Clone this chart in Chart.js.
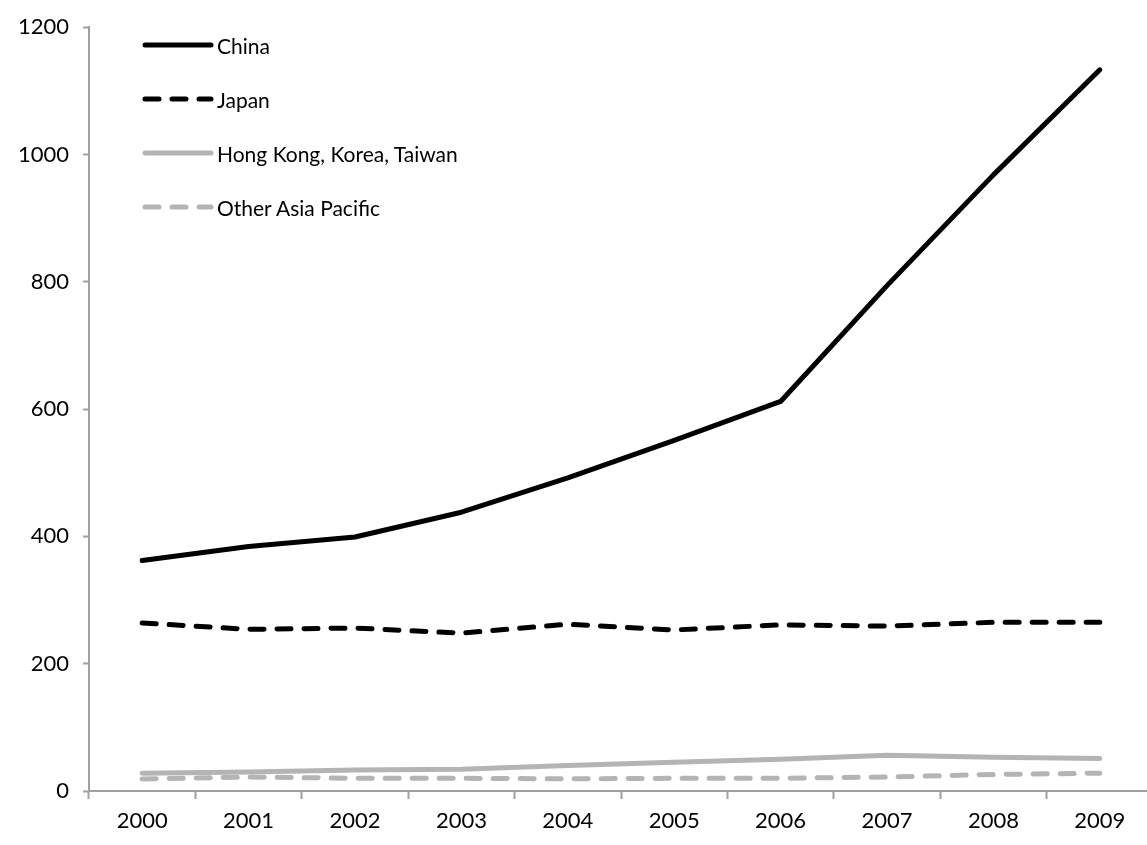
<!DOCTYPE html>
<html>
<head>
<meta charset="utf-8">
<script src="https://cdn.jsdelivr.net/npm/chart.js@4/dist/chart.umd.min.js"></script>
<style>
  html, body { margin: 0; padding: 0; background: #fff; overflow: hidden; }
  #wrap { position: relative; width: 1147px; height: 845px; overflow: hidden; }
  #legend { position: absolute; left: 142px; top: 18px; font-family: Lato, "Open Sans", sans-serif; font-size: 21px; color: #000; }
  #legend .row { height: 54px; display: flex; align-items: center; }
  #legend svg { width: 72px; height: 10px; margin-right: 3px; }
</style>
</head>
<body>
<div id="wrap">
  <canvas id="c" width="1153" height="845"></canvas>
  <div id="legend"></div>
</div>
<script>
var years = ["2000", "2001", "2002", "2003", "2004", "2005", "2006", "2007", "2008", "2009"];
var china = [362, 384, 399, 438, 492, 551, 612, 794, 968, 1133];
var japan = [264, 254, 256, 248, 262, 253, 261, 259, 265, 265];
var hkKoreaTaiwan = [28, 30, 33, 34, 40, 45, 50, 56, 53, 51];
var otherAsia = [19, 22, 20, 20, 19, 20, 20, 22, 26, 28];
var yTicks = [0, 200, 400, 600, 800, 1000, 1200];

var black = "#000000";
var grey = "#b4b4b4";
var axisGrey = "#a0a0a0";
var dash = [14, 13];

function series(label, data, color, dashed) {
  return {
    label: label,
    data: data,
    borderColor: color,
    backgroundColor: color,
    borderWidth: 5,
    borderDash: dashed ? dash : [],
    borderCapStyle: "round",
    borderJoinStyle: "round",
    pointRadius: 0,
    tension: 0,
    fill: false
  };
}

var datasets = [
  series("China", china, black, false),
  series("Japan", japan, black, true),
  series("Hong Kong, Korea, Taiwan", hkKoreaTaiwan, grey, false),
  series("Other Asia Pacific", otherAsia, grey, true)
];

var tickFont = { family: "Lato", size: 22 };

var chart = new Chart(document.getElementById("c"), {
  type: "line",
  data: { labels: years, datasets: datasets },
  options: {
    responsive: false,
    animation: false,
    layout: { padding: { top: 22, right: 0, bottom: 0, left: 0 } },
    plugins: { legend: { display: false }, tooltip: { enabled: false } },
    scales: {
      x: {
        offset: true,
        grid: { offset: true, drawOnChartArea: false, color: axisGrey, tickLength: 8, tickWidth: 2 },
        border: { color: axisGrey, width: 2 },
        ticks: { color: "#000", font: tickFont, padding: 9, maxRotation: 0 },
        afterFit: function(s) { s.height = 54; }
      },
      y: {
        min: 0,
        max: 1200,
        afterBuildTicks: function(s) { s.ticks = yTicks.map(function(v) { return { value: v }; }); },
        grid: { drawOnChartArea: false, color: axisGrey, tickLength: 6, tickWidth: 2 },
        border: { color: axisGrey, width: 2 },
        ticks: { color: "#000", font: tickFont, padding: 14, callback: function(v) { return String(v); } },
        afterFit: function(s) { s.width = 89; }
      }
    }
  }
});

// legend as html, built from the datasets
var leg = document.getElementById("legend");
datasets.forEach(function(ds) {
  var row = document.createElement("div");
  row.className = "row";
  var da = ds.borderDash.length ? ' stroke-dasharray="' + ds.borderDash.join(" ") + '"' : "";
  row.innerHTML = '<svg viewBox="0 0 72 10"><line x1="3" y1="5" x2="69" y2="5" stroke="' + ds.borderColor +
    '" stroke-width="5" stroke-linecap="round"' + da + '/></svg><span>' + ds.label + '</span>';
  leg.appendChild(row);
});
</script>
</body>
</html>
